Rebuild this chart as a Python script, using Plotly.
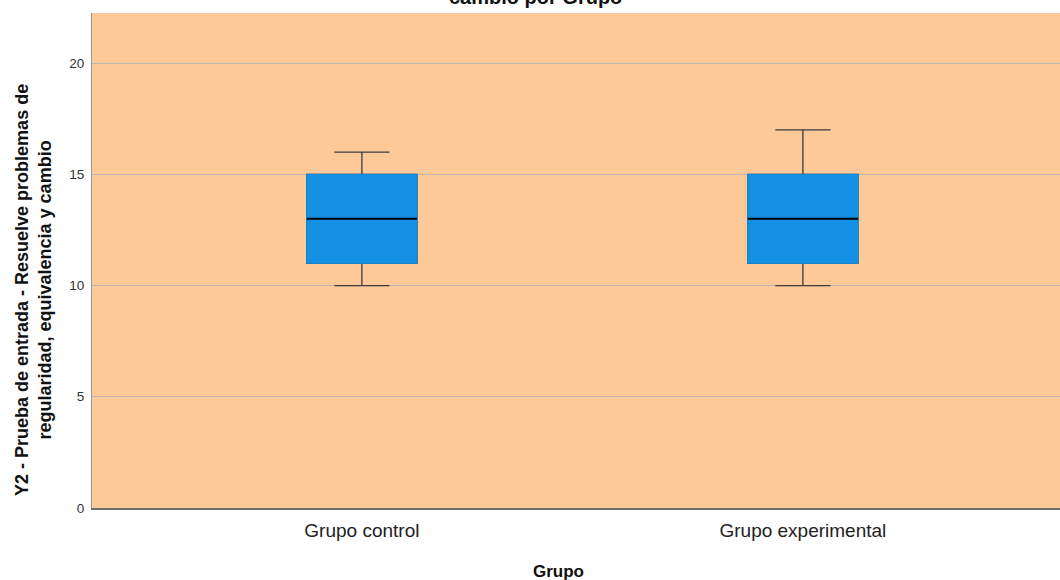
import plotly.graph_objects as go

categories = ["Grupo control", "Grupo experimental"]
lower = [10, 10]
q1 = [11, 11]
median = [13, 13]
q3 = [15, 15]
upper = [16, 17]
y_ticks = [0, 5, 10, 15, 20]

BOX_BLUE = "#138FE4"
DARK = "#3A3A3A"
BOX_W = 0.25
W, H = 1060, 580
L, T, B = 92, 13, 72
PH = H - T - B
PW = W - L

fig = go.Figure()
for i, c in enumerate(categories):
    # whiskers + box (dark outline)
    fig.add_trace(go.Box(x=[c], q1=[q1[i]], median=[median[i]], q3=[q3[i]],
                         lowerfence=[lower[i]], upperfence=[upper[i]],
                         width=BOX_W, whiskerwidth=0.5, fillcolor=BOX_BLUE,
                         line=dict(color=DARK, width=1.3), boxpoints=False,
                         showlegend=False, hoverinfo="skip"))
    # blue box on top (hides dark outline)
    fig.add_trace(go.Box(x=[c], q1=[q1[i]], median=[median[i]], q3=[q3[i]],
                         lowerfence=[q1[i]], upperfence=[q3[i]],
                         width=BOX_W, whiskerwidth=0, fillcolor=BOX_BLUE,
                         line=dict(color=BOX_BLUE, width=1), boxpoints=False,
                         showlegend=False, hoverinfo="skip"))
    # median line
    fig.add_trace(go.Box(x=[c], q1=[median[i]], median=[median[i]], q3=[median[i]],
                         lowerfence=[median[i]], upperfence=[median[i]],
                         width=BOX_W, whiskerwidth=0, fillcolor="black",
                         line=dict(color="black", width=2), boxpoints=False,
                         showlegend=False, hoverinfo="skip"))

fig.update_layout(
    width=W, height=H,
    margin=dict(l=L, r=0, t=T, b=B),
    paper_bgcolor="white",
    plot_bgcolor="#FEC999",
    boxmode="overlay",
    font=dict(family="Liberation Sans, Arial, sans-serif", color="#222222"),
    xaxis=dict(type="category", categoryorder="array", categoryarray=categories,
               range=[-0.612, 1.583], showgrid=False, ticks="",
               tickfont=dict(size=19, color="#222222"), ticklabelstandoff=4,
               showline=True, linecolor="#707070", linewidth=1.5,
               fixedrange=True),
    yaxis=dict(range=[0, 22.25], tickvals=y_ticks, ticks="",
               tickfont=dict(size=13.5, color="#333333"), ticklabelstandoff=4,
               showgrid=True, gridcolor="#BDB5AD", gridwidth=1,
               zeroline=False, showline=True, linecolor="#9A9A9A", linewidth=1,
               fixedrange=True),
    annotations=[
        dict(text="<b>cambio por Grupo</b>", xref="paper", yref="paper",
             x=(535 - L) / PW, y=1 + (T - 10) / PH, xanchor="center", yanchor="bottom",
             showarrow=False, font=dict(size=20, color="#111111")),
        dict(text="<b>Y2 - Prueba de entrada - Resuelve problemas de<br>regularidad, equivalencia y cambio</b>",
             xref="paper", yref="paper", x=(33 - L) / PW, y=(H - B - 290) / PH,
             xanchor="center", yanchor="middle", textangle=-90, showarrow=False,
             font=dict(size=18, color="#111111")),
        dict(text="<b>Grupo</b>", xref="paper", yref="paper",
             x=(558 - L) / PW, y=-(571 - (H - B)) / PH,
             xanchor="center", yanchor="middle", showarrow=False,
             font=dict(size=17, color="#111111")),
    ],
)

fig.write_html("out.html", config={"displayModeBar": False},
               post_script="document.body.style.margin='0';document.body.style.overflow='hidden';")
